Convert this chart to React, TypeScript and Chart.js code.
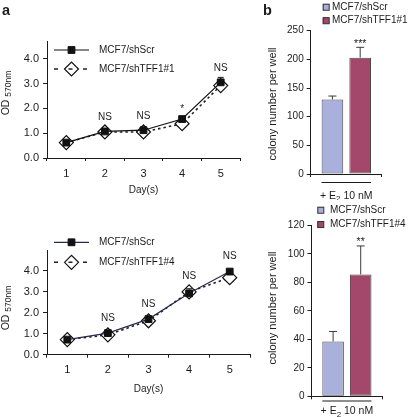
import React, { useEffect, useRef } from 'react';
import { Chart, registerables } from 'chart.js';
import { drawPoint } from 'chart.js/helpers';

Chart.register(...registerables);

// ---------------- data ----------------
const dayLabels = ['1', '2', '3', '4', '5'];
const namesA1 = ['MCF7/shScr', 'MCF7/shTFF1#1'];
const namesA2 = ['MCF7/shScr', 'MCF7/shTFF1#4'];

const a1Scr = [0.62, 1.07, 1.12, 1.57, 3.05];
const a1ScrErr = [0.03, 0.04, 0.04, 0.08, 0.2];
const a1Tff = [0.62, 1.05, 1.05, 1.38, 2.92];
const a1TffErr = [0.03, 0.04, 0.04, 0.06, 0.1];
const a1Sig = ['', 'NS', 'NS', '*', 'NS'];
const a1YTicks = [0, 1, 2, 3, 4];
const a1YMax = 4.7;

const a2Scr = [0.72, 1.03, 1.7, 2.93, 3.97];
const a2ScrErr = [0.03, 0.05, 0.08, 0.22, 0.08];
const a2Tff = [0.72, 0.95, 1.62, 3.0, 3.68];
const a2TffErr = [0.03, 0.05, 0.06, 0.1, 0.08];
const a2Sig = ['', 'NS', 'NS', 'NS', 'NS'];
const a2YTicks = [0, 1, 2, 3, 4];
const a2YMax = 5;

const treatment = ['+ E2 10 nM'];
const treatmentRuns = ['+ E', '2', ' 10 nM'];
const namesB1 = ['MCF7/shScr', 'MCF7/shTFF1#1'];
const namesB2 = ['MCF7/shScr', 'MCF7/shTFF1#4'];
const b1Values = [130, 203];
const b1Err = [6, 18];
const b1Sig = ['', '***'];
const b1YTicks = [0, 50, 100, 150, 200, 250];
const b1YMax = 250;

const b2Values = [38.5, 85.5];
const b2Err = [7, 20];
const b2Sig = ['', '**'];
const b2YTicks = [0, 20, 40, 60, 80, 100, 120];
const b2YMax = 120;

// ---------------- styling ----------------
const FONT = '"Liberation Sans", Arial, Helvetica, sans-serif';
const INK = '#1c1c1c';
const LAVENDER = '#aab0dc';
const MAROON = '#a3486b';

type Box = { left: number; top: number; width: number; height: number };
type Area = { l: number; t: number; r: number; b: number };
type Run = { text: string; size: number; shift: number; weight?: string };

function drawRuns(ctx: CanvasRenderingContext2D, runs: Run[], cx: number, cy: number, rotate: boolean) {
  ctx.save();
  ctx.translate(cx, cy);
  if (rotate) ctx.rotate(-Math.PI / 2);
  ctx.textAlign = 'left';
  ctx.textBaseline = 'alphabetic';
  ctx.fillStyle = INK;
  const widths = runs.map((r) => {
    ctx.font = `${r.weight || 'normal'} ${r.size}px ${FONT}`;
    return ctx.measureText(r.text).width;
  });
  const total = widths.reduce((a, b) => a + b, 0);
  let x = -total / 2;
  runs.forEach((r, i) => {
    ctx.font = `${r.weight || 'normal'} ${r.size}px ${FONT}`;
    ctx.fillText(r.text, x, r.shift);
    x += widths[i];
  });
  ctx.restore();
}

function ChartCanvas({ box, build }: { box: Box; build: () => any }) {
  const ref = useRef<HTMLCanvasElement>(null);
  useEffect(() => {
    const chart = new Chart(ref.current as HTMLCanvasElement, build());
    return () => chart.destroy();
  }, []);
  return (
    <canvas
      ref={ref}
      width={box.width}
      height={box.height}
      style={{ position: 'absolute', left: box.left, top: box.top, width: box.width, height: box.height }}
    />
  );
}

function baseOptions(box: Box, area: Area, xh: number) {
  return {
    responsive: false,
    animation: false,
    devicePixelRatio: 1,
    events: [],
    layout: {
      padding: { left: 0, top: area.t, right: box.width - area.r, bottom: box.height - area.b - xh },
    },
    plugins: { legend: { display: false }, tooltip: { enabled: false } },
  };
}

// ---------------- line chart (panel a) ----------------
type LineSpec = {
  box: Box;
  area: Area;
  names: string[];
  scr: number[];
  scrErr: number[];
  tff: number[];
  tffErr: number[];
  sig: string[];
  yTicks: number[];
  yMax: number;
  scrColor: string;
  legendRows: number[];
  sigGap: number;
  yTitleY: number;
  xTitleBase: number;
  letter?: string;
};

function buildLine(s: LineSpec) {
  const decor = {
    id: 'lineDecor',
    afterDatasetsDraw(chart: any) {
      const ctx: CanvasRenderingContext2D = chart.ctx;
      const y = chart.scales.y;
      ctx.save();
      // error bars (upper)
      const errs = [s.scrErr, s.tffErr];
      const rad = [3.5, 7];
      [0, 1].forEach((di) => {
        const meta = chart.getDatasetMeta(di);
        const vals = chart.data.datasets[di].data;
        meta.data.forEach((pt: any, i: number) => {
          const yt = y.getPixelForValue(vals[i] + errs[di][i]);
          if (yt >= pt.y - rad[di]) return;
          ctx.strokeStyle = INK;
          ctx.lineWidth = 1;
          ctx.setLineDash([]);
          ctx.beginPath();
          ctx.moveTo(pt.x, pt.y - rad[di]);
          ctx.lineTo(pt.x, yt);
          ctx.moveTo(pt.x - 3, yt);
          ctx.lineTo(pt.x + 3, yt);
          ctx.stroke();
        });
      });
      // significance labels
      ctx.fillStyle = INK;
      ctx.font = `10px ${FONT}`;
      ctx.textAlign = 'center';
      ctx.textBaseline = 'alphabetic';
      const m0 = chart.getDatasetMeta(0);
      s.sig.forEach((lab, i) => {
        if (!lab) return;
        const top = Math.max(s.scr[i], s.tff[i]);
        const gap = lab === '*' ? s.sigGap - 4 : s.sigGap;
        ctx.fillText(lab, m0.data[i].x, y.getPixelForValue(top) - gap);
      });
      // legend
      const x1 = 54;
      const x2 = 89;
      const cx = 71.5;
      s.names.forEach((name, k) => {
        const ds = chart.data.datasets[k];
        const ry = s.legendRows[k];
        ctx.strokeStyle = ds.borderColor;
        ctx.lineWidth = ds.borderWidth;
        const seg = () => {
          ctx.beginPath();
          ctx.setLineDash(ds.borderDash && ds.borderDash.length ? [4, 10.5] : []);
          ctx.moveTo(x1, ry);
          ctx.lineTo(x2, ry);
          ctx.stroke();
          ctx.setLineDash([]);
        };
        const pt = () => {
          ctx.fillStyle = ds.pointBackgroundColor;
          ctx.strokeStyle = ds.pointBorderColor;
          ctx.lineWidth = ds.pointBorderWidth;
          drawPoint(ctx, { pointStyle: ds.pointStyle, radius: ds.pointRadius, borderWidth: ds.pointBorderWidth, rotation: 0 } as any, cx, ry);
        };
        if (k === 0) {
          seg();
          pt();
        } else {
          pt();
          ctx.strokeStyle = ds.borderColor;
          ctx.lineWidth = ds.borderWidth;
          seg();
        }
        ctx.fillStyle = INK;
        ctx.font = `10px ${FONT}`;
        ctx.textAlign = 'left';
        ctx.textBaseline = 'middle';
        ctx.fillText(name, 99, ry);
      });
      // axis titles
      const ca = chart.chartArea;
      drawRuns(ctx, [{ text: 'Day(s)', size: 10, shift: 0 }], (ca.left + ca.right) / 2, s.xTitleBase, false);
      drawRuns(
        ctx,
        [
          { text: 'OD ', size: 10.5, shift: 0 },
          { text: '570nm', size: 8.5, shift: 2.5 },
        ],
        8.5,
        s.yTitleY,
        true
      );
      if (s.letter) drawRuns(ctx, [{ text: s.letter, size: 14.5, shift: 0, weight: 'bold' }], 6, 15, false);
      ctx.restore();
    },
  };

  return {
    type: 'line',
    data: {
      labels: dayLabels,
      datasets: [
        {
          label: s.names[0],
          data: s.scr,
          borderColor: s.scrColor,
          borderWidth: 1.2,
          borderDash: [],
          pointStyle: 'rect',
          pointRadius: 4.8,
          pointBackgroundColor: '#111',
          pointBorderColor: '#111',
          pointBorderWidth: 1,
          tension: 0,
        },
        {
          label: s.names[1],
          data: s.tff,
          borderColor: '#222',
          borderWidth: 1.6,
          borderDash: [2.5, 3],
          pointStyle: 'rectRot',
          pointRadius: 7,
          pointBackgroundColor: '#ffffff',
          pointBorderColor: '#111',
          pointBorderWidth: 1.2,
          tension: 0,
        },
      ],
    },
    options: {
      ...baseOptions(s.box, s.area, 20),
      scales: {
        x: {
          type: 'category',
          offset: true,
          grid: { offset: true, drawOnChartArea: false, drawTicks: true, tickLength: 3, color: INK, lineWidth: 1 },
          border: { display: true, color: INK, width: 1 },
          ticks: { color: INK, font: { family: FONT, size: 11 }, padding: 6, maxRotation: 0 },
          afterFit: (sc: any) => {
            sc.height = 20;
          },
        },
        y: {
          type: 'linear',
          min: 0,
          max: s.yMax,
          grid: { drawOnChartArea: false, drawTicks: true, tickLength: 4, color: INK, lineWidth: 1 },
          border: { display: true, color: INK, width: 1 },
          ticks: {
            color: INK,
            font: { family: FONT, size: 11 },
            padding: 4,
            callback: (v: number) => Number(v).toFixed(1),
          },
          afterBuildTicks: (sc: any) => {
            sc.ticks = s.yTicks.map((v) => ({ value: v }));
          },
          afterFit: (sc: any) => {
            sc.width = s.area.l;
          },
        },
      },
    },
    plugins: [decor],
  };
}

// ---------------- bar chart (panel b) ----------------
type BarSpec = {
  box: Box;
  area: Area;
  names: string[];
  values: number[];
  err: number[];
  sig: string[];
  yTicks: number[];
  yMax: number;
  legend: { x: number; rows: number[]; textX: number };
  bracketGap: number;
  labelBase: number;
  yTitleY: number;
  letter?: string;
};

function buildBar(s: BarSpec) {
  const colors = [LAVENDER, MAROON];
  const decor = {
    id: 'barDecor',
    afterDatasetsDraw(chart: any) {
      const ctx: CanvasRenderingContext2D = chart.ctx;
      const y = chart.scales.y;
      const ca = chart.chartArea;
      ctx.save();
      const bars = [0, 1].map((di) => chart.getDatasetMeta(di).data[0]);
      // error bars + stars
      bars.forEach((bar: any, di: number) => {
        const v = chart.data.datasets[di].data[0];
        const yt = y.getPixelForValue(v + s.err[di]);
        ctx.strokeStyle = '#3a3a3a';
        ctx.lineWidth = 1;
        ctx.beginPath();
        ctx.moveTo(bar.x, bar.y);
        ctx.lineTo(bar.x, yt);
        ctx.moveTo(bar.x - 4, yt);
        ctx.lineTo(bar.x + 4, yt);
        ctx.stroke();
        if (s.sig[di]) {
          ctx.fillStyle = INK;
          ctx.font = `10.5px ${FONT}`;
          ctx.textAlign = 'center';
          ctx.textBaseline = 'alphabetic';
          ctx.fillText(s.sig[di], bar.x, yt - 0.5);
        }
      });
      // treatment bracket + label
      const bl = bars[0].x - bars[0].width / 2;
      const br = bars[1].x + bars[1].width / 2;
      const by = ca.bottom + s.bracketGap;
      ctx.strokeStyle = INK;
      ctx.lineWidth = 1;
      ctx.beginPath();
      ctx.moveTo(bl, by);
      ctx.lineTo(br, by);
      ctx.stroke();
      drawRuns(
        ctx,
        [
          { text: treatmentRuns[0], size: 10.5, shift: 0 },
          { text: treatmentRuns[1], size: 8, shift: 2.5 },
          { text: treatmentRuns[2], size: 10.5, shift: 0 },
        ],
        (bl + br) / 2,
        s.labelBase,
        false
      );
      // legend
      s.names.forEach((name, k) => {
        const ry = s.legend.rows[k];
        ctx.fillStyle = colors[k];
        ctx.fillRect(s.legend.x, ry - 3.25, 6.5, 6.5);
        ctx.strokeStyle = '#333';
        ctx.lineWidth = 1;
        ctx.strokeRect(s.legend.x + 0.5, ry - 2.75, 6, 6);
        ctx.fillStyle = INK;
        ctx.font = `10px ${FONT}`;
        ctx.textAlign = 'left';
        ctx.textBaseline = 'middle';
        ctx.fillText(name, s.legend.textX, ry);
      });
      drawRuns(ctx, [{ text: 'colony number per well', size: 11, shift: 0 }], 15.5, s.yTitleY, true);
      if (s.letter) drawRuns(ctx, [{ text: s.letter, size: 14.5, shift: 0, weight: 'bold' }], 7.5, 15, false);
      ctx.restore();
    },
  };

  return {
    type: 'bar',
    data: {
      labels: treatment,
      datasets: s.names.map((n, k) => ({
        label: n,
        data: [s.values[k]],
        backgroundColor: colors[k],
        borderColor: '#4a4a4a',
        borderWidth: 1,
        borderSkipped: false,
        categoryPercentage: 0.78,
        barPercentage: 0.78,
      })),
    },
    options: {
      ...baseOptions(s.box, s.area, 10),
      scales: {
        x: {
          type: 'category',
          offset: true,
          grid: { offset: true, drawOnChartArea: false, drawTicks: true, tickLength: 3, color: INK, lineWidth: 1 },
          border: { display: true, color: INK, width: 1 },
          ticks: { display: false },
          afterFit: (sc: any) => {
            sc.height = 10;
          },
        },
        y: {
          type: 'linear',
          min: 0,
          max: s.yMax,
          grid: { drawOnChartArea: false, drawTicks: true, tickLength: 4, color: INK, lineWidth: 1 },
          border: { display: true, color: INK, width: 1 },
          ticks: { color: INK, font: { family: FONT, size: 10 }, padding: 3 },
          afterBuildTicks: (sc: any) => {
            sc.ticks = s.yTicks.map((v) => ({ value: v }));
          },
          afterFit: (sc: any) => {
            sc.width = s.area.l;
          },
        },
      },
    },
    plugins: [decor],
  };
}

// ---------------- specs ----------------
const boxA1: Box = { left: 0, top: 0, width: 260, height: 200 };
const boxA2: Box = { left: 0, top: 200, width: 260, height: 217 };
const boxB1: Box = { left: 260, top: 0, width: 149, height: 200 };
const boxB2: Box = { left: 260, top: 200, width: 149, height: 217 };

const specA1: LineSpec = {
  box: boxA1,
  area: { l: 47, t: 41.4, r: 240, b: 158 },
  names: namesA1,
  scr: a1Scr,
  scrErr: a1ScrErr,
  tff: a1Tff,
  tffErr: a1TffErr,
  sig: a1Sig,
  yTicks: a1YTicks,
  yMax: a1YMax,
  scrColor: '#111',
  legendRows: [50, 69],
  sigGap: 11,
  yTitleY: 93,
  xTitleBase: 193,
  letter: 'a',
};

const specA2: LineSpec = {
  box: boxA2,
  area: { l: 47, t: 50, r: 250, b: 154.7 },
  names: namesA2,
  scr: a2Scr,
  scrErr: a2ScrErr,
  tff: a2Tff,
  tffErr: a2TffErr,
  sig: a2Sig,
  yTicks: a2YTicks,
  yMax: a2YMax,
  scrColor: '#2b2b4d',
  legendRows: [42.3, 62.3],
  sigGap: 12.5,
  yTitleY: 108,
  xTitleBase: 191.5,
};

const specB1: BarSpec = {
  box: boxB1,
  area: { l: 50.7, t: 30.7, r: 121.9, b: 174 },
  names: namesB1,
  values: b1Values,
  err: b1Err,
  sig: b1Sig,
  yTicks: b1YTicks,
  yMax: b1YMax,
  legend: { x: 62.7, rows: [7, 20.5], textX: 72 },
  bracketGap: 8.5,
  labelBase: 198.5,
  yTitleY: 104,
  letter: 'b',
};

const specB2: BarSpec = {
  box: boxB2,
  area: { l: 51.5, t: 25.3, r: 122.3, b: 196.3 },
  names: namesB2,
  values: b2Values,
  err: b2Err,
  sig: b2Sig,
  yTicks: b2YTicks,
  yMax: b2YMax,
  legend: { x: 57.3, rows: [10, 24.3], textX: 70 },
  bracketGap: 4.7,
  labelBase: 214,
  yTitleY: 108,
};

export default function App() {
  return (
    <div style={{ position: 'fixed', left: 0, top: 0, width: 409, height: 417, background: '#ffffff', overflow: 'hidden' }}>
      <ChartCanvas box={boxA1} build={() => buildLine(specA1)} />
      <ChartCanvas box={boxA2} build={() => buildLine(specA2)} />
      <ChartCanvas box={boxB1} build={() => buildBar(specB1)} />
      <ChartCanvas box={boxB2} build={() => buildBar(specB2)} />
    </div>
  );
}
